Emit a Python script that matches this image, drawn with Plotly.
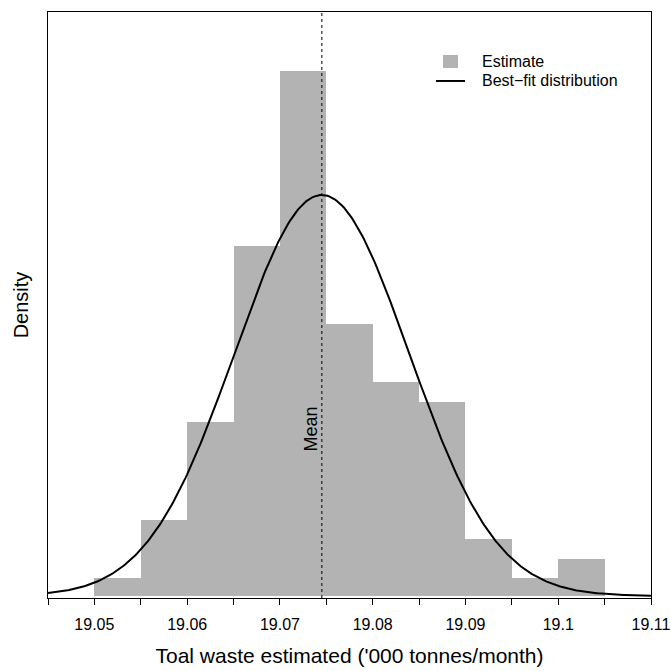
import numpy as np
import plotly.graph_objects as go

# Histogram bins (left edges) and densities
bin_left = [19.050, 19.055, 19.060, 19.065, 19.070, 19.075,
            19.080, 19.085, 19.090, 19.095, 19.100]
bin_width = 0.005
density = [1.9, 8.0, 18.4, 37.0, 55.6, 28.8, 22.6, 20.5, 6.0, 1.9, 3.9]

# Best-fit normal distribution parameters
fit_mean = 19.07452
fit_sd = 0.00940

tick_vals = [19.045, 19.05, 19.055, 19.06, 19.065, 19.07, 19.075,
             19.08, 19.085, 19.09, 19.095, 19.1, 19.105, 19.11]
tick_text = ["", "19.05", "", "19.06", "", "19.07", "", "19.08", "",
             "19.09", "", "19.1", "", "19.11"]

legend_labels = ["Estimate", "Best\u2212fit distribution"]

x_centers = [b + bin_width / 2 for b in bin_left]
xc = np.linspace(19.045, 19.11, 400)
yc = np.exp(-0.5 * ((xc - fit_mean) / fit_sd) ** 2) / (fit_sd * np.sqrt(2 * np.pi))

font = "Liberation Sans, Arial, sans-serif"
bar_color = "#b3b3b3"

fig = go.Figure()
fig.add_trace(go.Bar(
    x=x_centers, y=density, width=bin_width,
    marker=dict(color=bar_color, line=dict(width=0)),
    name=legend_labels[0], showlegend=False,
))
fig.add_trace(go.Scatter(
    x=xc, y=yc, mode="lines",
    line=dict(color="black", width=2),
    name=legend_labels[1], showlegend=False,
))

# mean line and label
fig.add_shape(type="line", xref="x", yref="paper", x0=fit_mean, x1=fit_mean,
              y0=0, y1=1, line=dict(color="black", width=1, dash="dot"))
fig.add_annotation(x=fit_mean, y=17.7, xref="x", yref="y", text="Mean",
                   textangle=-90, showarrow=False, xshift=-11,
                   font=dict(family=font, size=18, color="black"))

# legend (drawn in paper coordinates, like R's legend())
fig.add_shape(type="rect", xref="paper", yref="paper",
              x0=0.6551, x1=0.6799, y0=0.9044, y1=0.9266,
              fillcolor=bar_color, line=dict(width=0))
fig.add_shape(type="line", xref="paper", yref="paper",
              x0=0.6434, x1=0.6915, y0=0.8823, y1=0.8823,
              line=dict(color="black", width=2))
for lab, yp in zip(legend_labels, [0.9147, 0.8823]):
    fig.add_annotation(x=0.7164, y=yp, xref="paper", yref="paper", text=lab,
                       showarrow=False, xanchor="left", yanchor="middle",
                       font=dict(family=font, size=16, color="black"))

fig.update_layout(
    width=671, height=671,
    margin=dict(l=48, r=20, t=12, b=73),
    paper_bgcolor="white", plot_bgcolor="white",
    bargap=0,
    font=dict(family=font, size=16, color="black"),
    showlegend=False,
)
fig.update_xaxes(
    range=[19.045, 19.11], tickmode="array", tickvals=tick_vals,
    ticktext=tick_text, ticks="outside", ticklen=6, tickcolor="black",
    showline=True, linecolor="black", linewidth=1, mirror=True,
    showgrid=False, zeroline=False, automargin=False,
    tickfont=dict(size=16), ticklabelstandoff=6, ticklabeloverflow="allow",
    title=dict(text="Toal waste estimated ('000 tonnes/month)",
               font=dict(size=21), standoff=16),
)
fig.update_yaxes(
    range=[-0.21, 61.8], showticklabels=False, ticks="",
    showline=True, linecolor="black", linewidth=1, mirror=True,
    showgrid=False, zeroline=False, automargin=False,
    title=dict(text="Density", font=dict(size=20), standoff=13),
)

fig.write_html(
    "out.html",
    config={"displayModeBar": False},
    post_script=("document.body.style.margin='0px';"
                 "document.body.style.overflow='hidden';"
                 "document.documentElement.style.overflow='hidden';"),
)
